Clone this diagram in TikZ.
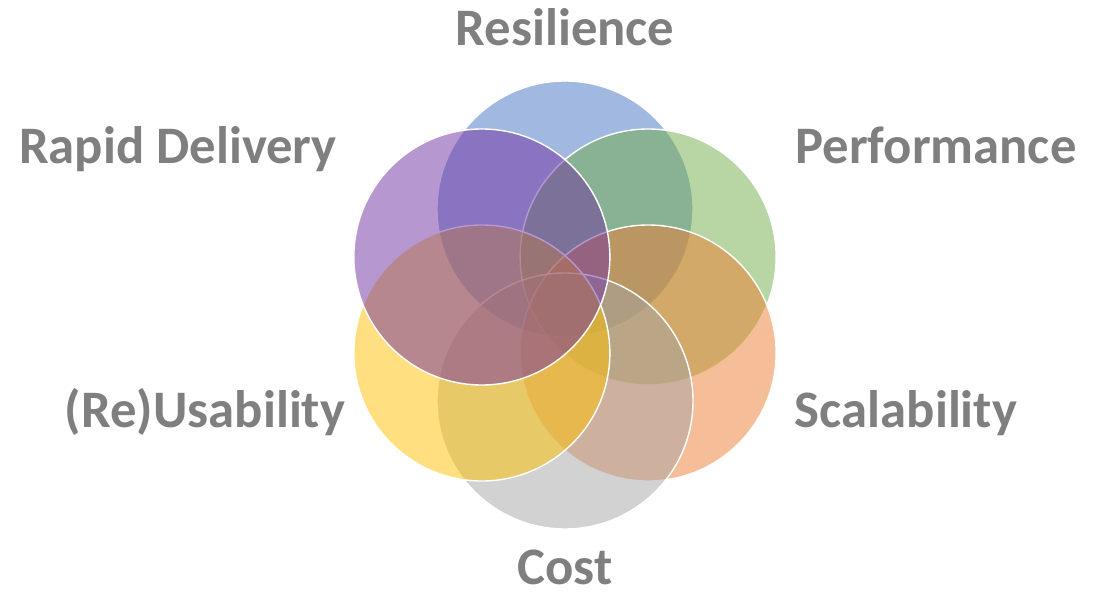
\documentclass[tikz,border=0pt]{standalone}
\usepackage{fontspec}
\setmainfont{Carlito}
\usepackage{xcolor}
\usepackage{tikz}

\definecolor{resil}{HTML}{4472C4}
\definecolor{perf}{HTML}{70AD47}
\definecolor{scal}{HTML}{ED7D31}
\definecolor{cost}{HTML}{A5A5A5}
\definecolor{reuse}{HTML}{FFC000}
\definecolor{rapid}{HTML}{7030A0}
\definecolor{labelgray}{HTML}{7F7F7F}

\begin{document}
\begin{tikzpicture}[font=\fontsize{37.5}{42}\selectfont\bfseries,
  petal/.style={fill=#1,fill opacity=0.5,draw=white,line width=1pt},
  goal/.style={labelgray,anchor=base}]
\useasboundingbox (-14.125,-7.175) rectangle (13.475,7.625);
% six overlapping circles, drawn clockwise from the top
\foreach \ang/\col in {90/resil,30/perf,-30/scal,-90/cost,-150/reuse,150/rapid}
  \draw[petal=\col] (\ang:2.4) circle (3.2);
% labels
\node[goal] (resilience) at (0,6.5){Resilience};
\node[goal] (performance) at (9.275,3.55){Performance};
\node[goal] (scalability) at (8.525,-3.05){Scalability};
\node[goal] (cost) at (0,-6.98){Cost};
\node[goal] (usability) at (-9.0,-3.05){(Re)Usability};
\node[goal] (delivery) at (-9.675,3.55){Rapid Delivery};
\end{tikzpicture}
\end{document}
